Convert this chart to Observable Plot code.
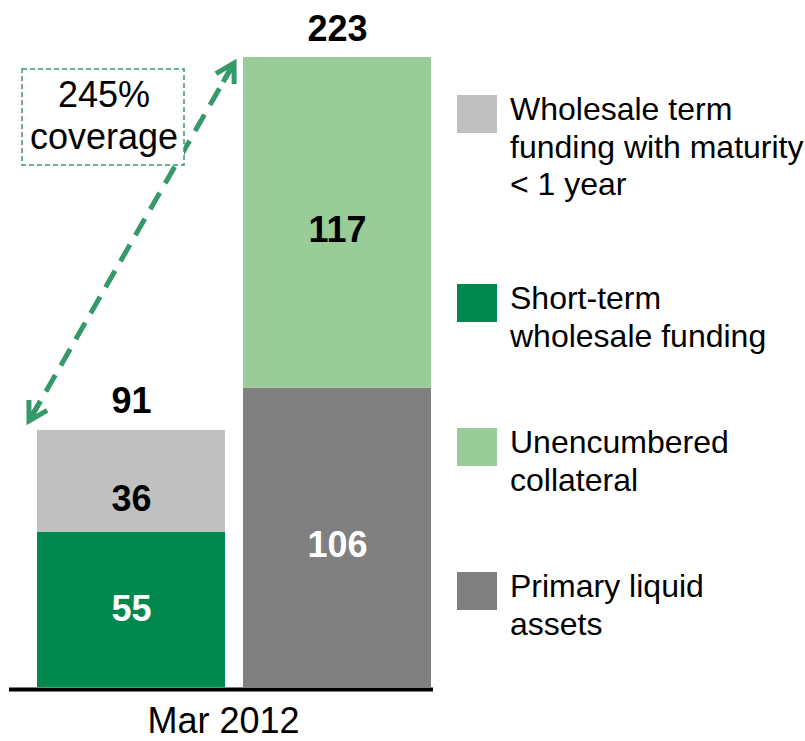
<!DOCTYPE html>
<html><head><meta charset="utf-8">
<script src="https://cdn.jsdelivr.net/npm/d3@7"></script>
<script src="https://cdn.jsdelivr.net/npm/@observablehq/plot@0.6"></script>
<style>
body{margin:0;background:#fff;}
#chart svg{font-family:"Liberation Sans",Arial,sans-serif;}
</style>
</head><body><div id="chart"></div>
<script>
// ---- data ----
const bars = ["Funding", "Liquidity"];
const segments = [
  "Short-term wholesale funding",
  "Wholesale term funding with maturity < 1 year",
  "Primary liquid assets",
  "Unencumbered collateral"
];
const segmentBar = ["Funding", "Funding", "Liquidity", "Liquidity"];
const values = [55, 36, 106, 117];
const totals = [91, 223];
const periodLabel = "Mar 2012";
const coverageLines = ["245%", "coverage"];
const legendSegments = [
  "Wholesale term funding with maturity < 1 year",
  "Short-term wholesale funding",
  "Unencumbered collateral",
  "Primary liquid assets"
];
const legendLines = [
  ["Wholesale term", "funding with maturity", "< 1 year"],
  ["Short-term", "wholesale funding"],
  ["Unencumbered", "collateral"],
  ["Primary liquid", "assets"]
];
const colors = ["#00884F", "#C0C0C0", "#808080", "#99CC99"];
const labelColors = ["white", "black", "white", "black"];

// ---- derived table ----
const cum = {};
const rows = segments.map((s, i) => {
  const b = segmentBar[i];
  const y1 = cum[b] || 0;
  cum[b] = y1 + values[i];
  return {segment: s, bar: b, value: values[i], mid: y1 + values[i] / 2, labelColor: labelColors[i]};
});
const totalRows = bars.map((b, i) => ({bar: b, total: totals[i]}));

const labelDy = [0, 18, 8, 8];
const labelMarks = rows.map((r, i) => Plot.text([r], {
  x: "bar", y: "mid", text: d => String(d.value), fill: "labelColor",
  fontSize: 36, fontWeight: "bold", lineAnchor: "middle", dy: labelDy[i]
}));

const plot = Plot.plot({
  width: 805,
  height: 741,
  marginTop: 57,
  marginBottom: 54,
  marginLeft: 9,
  marginRight: 372,
  style: {fontFamily: "Liberation Sans, Arial, sans-serif", background: "white", overflow: "visible"},
  x: {type: "band", domain: bars, range: [37, 431], paddingInner: 0.088, paddingOuter: 0, axis: null},
  y: {domain: [0, 223], axis: null},
  color: {domain: segments, range: colors},
  marks: [
    Plot.barY(rows, {x: "bar", y: "value", fill: "segment", inset: 0}),
    ...labelMarks,
    Plot.text(totalRows, {x: "bar", y: "total", text: d => String(d.total), fontSize: 36, fontWeight: "bold", fill: "black", lineAnchor: "bottom", dy: -17}),
    Plot.ruleY([0], {stroke: "black", strokeWidth: 4, dy: 2}),
    Plot.text([periodLabel], {frameAnchor: "bottom", text: d => d, fontSize: 36, fill: "black", lineAnchor: "bottom", dy: 45, dx: 2})
  ]
});
document.getElementById("chart").appendChild(plot);

// ---- annotations (using the plot's own scales) ----
const svg = d3.select(plot);
const xs0 = plot.scale("x"), ys0 = plot.scale("y");
const xs = d3.scaleBand().domain(xs0.domain).range(xs0.range)
  .paddingInner(xs0.paddingInner).paddingOuter(xs0.paddingOuter).align(xs0.align ?? 0.5);
const ys = d3.scaleLinear(ys0.domain, ys0.range);
const green = "#35996A";

// double-headed dashed arrow from the top of the funding bar to the top of the liquidity bar
const A = [xs(bars[0]) - 8, ys(totals[0]) - 9];
const B = [xs(bars[1]) - 9, ys(totals[1]) + 6];
const g = svg.append("g");
g.append("line")
  .attr("x1", A[0]).attr("y1", A[1]).attr("x2", B[0]).attr("y2", B[1])
  .attr("stroke", green).attr("stroke-width", 5)
  .attr("stroke-dasharray", "19,11").attr("stroke-dashoffset", -4);
function head(tip, from) {
  const ang = Math.atan2(from[1] - tip[1], from[0] - tip[0]);
  const L = 21, a = Math.PI / 6;
  const w1 = [tip[0] + L * Math.cos(ang + a), tip[1] + L * Math.sin(ang + a)];
  const w2 = [tip[0] + L * Math.cos(ang - a), tip[1] + L * Math.sin(ang - a)];
  const s = [tip[0] + 22 * Math.cos(ang), tip[1] + 22 * Math.sin(ang)];
  g.append("path")
    .attr("d", `M${w1}L${tip}L${w2}M${tip}L${s}`)
    .attr("fill", "none").attr("stroke", green).attr("stroke-width", 5)
    .attr("stroke-linejoin", "miter").attr("stroke-linecap", "butt");
}
head(A, B);
head(B, A);

// coverage box
const box = svg.append("g");
box.append("rect").attr("x", 22).attr("y", 69).attr("width", 162).attr("height", 96)
  .attr("fill", "white").attr("stroke", green).attr("stroke-width", 1.5)
  .attr("stroke-dasharray", "5,3");
coverageLines.forEach((t, i) => {
  box.append("text").attr("x", 104).attr("y", 107 + i * 42)
    .attr("text-anchor", "middle").attr("font-size", 36).attr("fill", "black").text(t);
});

// legend
const legendTops = [95, 284, 428, 572];
const leg = svg.append("g").attr("text-anchor", "start");
legendSegments.forEach((s, i) => {
  const top = legendTops[i];
  leg.append("rect").attr("x", 457).attr("y", top).attr("width", 40).attr("height", 38)
    .attr("fill", colors[segments.indexOf(s)]);
  legendLines[i].forEach((t, j) => {
    leg.append("text").attr("x", 510).attr("y", top + 25 + j * 37.5)
      .attr("text-anchor", "start")
      .attr("font-size", 32).attr("fill", "black").text(t);
  });
});
</script>
</body></html>
